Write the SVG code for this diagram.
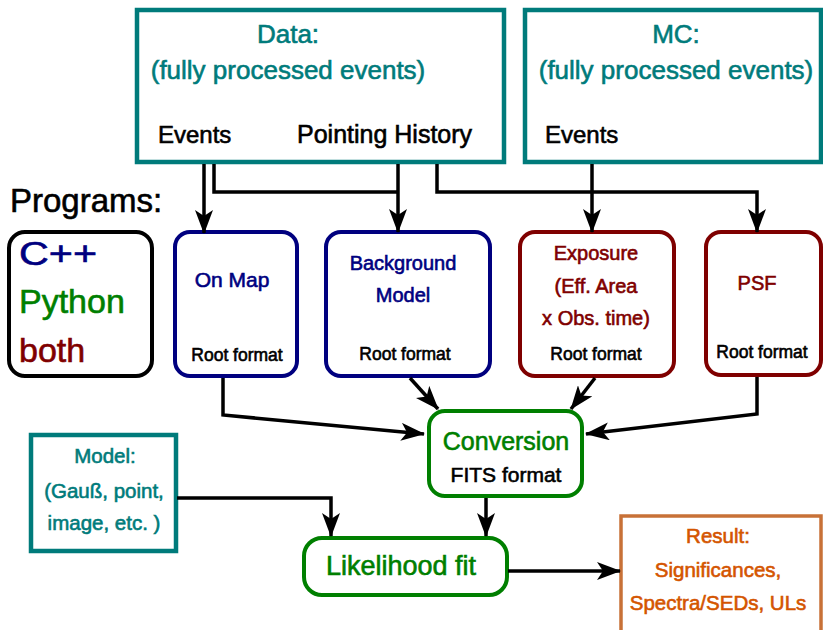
<svg xmlns="http://www.w3.org/2000/svg" width="823" height="630" viewBox="0 0 823 630">
<style>
text{font-family:"Liberation Sans","DejaVu Sans",sans-serif;stroke-width:0.6;}
.teal{fill:#007b7b;stroke:#007b7b;}
.navy{fill:#00007f;stroke:#00007f;}
.dred{fill:#7f0000;stroke:#7f0000;}
.grn{fill:#007f00;stroke:#007f00;}
.org{fill:#d45500;stroke:#d45500;}
.blk{fill:#000;stroke:#000;}
.mid{text-anchor:middle;}
.sq{fill:#fff;stroke:#007b7b;stroke-width:4.5;}
.rb{fill:#fff;stroke-width:4;}
.conn path{fill:none;stroke:#000;stroke-width:3.5;}
</style>
<defs>
<marker id="ah" viewBox="0 0 24 18" markerWidth="24" markerHeight="18" refX="23" refY="9" orient="auto" markerUnits="userSpaceOnUse">
<path d="M0,0 L24,9 L0,18 L6,9 Z" fill="#000"/>
</marker>
</defs>
<rect width="823" height="630" fill="#fff"/>

<g id="data">
<rect class="sq" x="137" y="10" width="367" height="152"/>
<text class="teal mid" x="288" y="43" font-size="26">Data:</text>
<text class="teal mid" x="288" y="79" font-size="26">(fully processed events)</text>
<text class="blk" x="158" y="143" font-size="24">Events</text>
<text class="blk" x="297" y="143" font-size="25">Pointing History</text>
</g>

<g id="mc">
<rect class="sq" x="525" y="10" width="296" height="152"/>
<text class="teal mid" x="676" y="43" font-size="26">MC:</text>
<text class="teal mid" x="676" y="79" font-size="26">(fully processed events)</text>
<text class="blk" x="545" y="143" font-size="24">Events</text>
</g>

<g id="programs">
<text class="blk" x="10" y="212" font-size="33">Programs:</text>
<rect class="rb" x="9" y="232" width="143" height="144" rx="16" stroke="#000" stroke-width="3.5"/>
<text class="navy" x="19" y="265" font-size="34" textLength="78" lengthAdjust="spacingAndGlyphs">C++</text>
<text class="grn" x="19" y="313" font-size="34">Python</text>
<text class="dred" x="19" y="362" font-size="34">both</text>
</g>

<g id="onmap">
<rect class="rb" x="175" y="232" width="122" height="144" rx="15" stroke="#00007f"/>
<text class="navy mid" x="232" y="287" font-size="21">On Map</text>
<text class="blk mid" x="237" y="361" font-size="17.5">Root format</text>
</g>

<g id="background">
<rect class="rb" x="326" y="232" width="164" height="144" rx="15" stroke="#00007f"/>
<text class="navy mid" x="403" y="270" font-size="20">Background</text>
<text class="navy mid" x="403" y="302" font-size="20">Model</text>
<text class="blk mid" x="405" y="360" font-size="17.5">Root format</text>
</g>

<g id="exposure">
<rect class="rb" x="520" y="232" width="154" height="144" rx="15" stroke="#7f0000"/>
<text class="dred mid" x="596" y="260" font-size="20">Exposure</text>
<text class="dred mid" x="596" y="293" font-size="20">(Eff. Area</text>
<text class="dred mid" x="596" y="325" font-size="20">x Obs. time)</text>
<text class="blk mid" x="596" y="360" font-size="17.5">Root format</text>
</g>

<g id="psf">
<rect class="rb" x="706" y="232" width="115" height="143" rx="15" stroke="#7f0000"/>
<text class="dred mid" x="757" y="290" font-size="20">PSF</text>
<text class="blk mid" x="762" y="358" font-size="17.5">Root format</text>
</g>

<g id="conversion">
<rect class="rb" x="429" y="411" width="153" height="85" rx="16" stroke="#007f00"/>
<text class="grn mid" x="506" y="450" font-size="25">Conversion</text>
<text class="blk mid" x="506" y="482" font-size="21">FITS format</text>
</g>

<g id="model">
<rect class="sq" x="31" y="435" width="145" height="116"/>
<text class="teal mid" x="105" y="463" font-size="20.5">Model:</text>
<text class="teal mid" x="104" y="498" font-size="20.5">(Gauß, point,</text>
<text class="teal mid" x="104" y="530" font-size="20.5">image, etc. )</text>
</g>

<g id="likelihood">
<rect class="rb" x="304" y="538" width="203" height="57" rx="18" stroke="#007f00"/>
<text class="grn mid" x="401" y="575" font-size="27">Likelihood fit</text>
</g>

<g id="result">
<rect x="621" y="516" width="200" height="120" fill="#fff" stroke="#c87137" stroke-width="3.5"/>
<text class="org mid" x="718" y="543" font-size="20.5">Result:</text>
<text class="org mid" x="718" y="577" font-size="20.5">Significances,</text>
<text class="org mid" x="718" y="610" font-size="20.5">Spectra/SEDs, ULs</text>
</g>

<g class="conn" id="connectors">
<path d="M204,164 V233" marker-end="url(#ah)"/>
<path d="M214,164 V192 H398"/>
<path d="M398,164 V232" marker-end="url(#ah)"/>
<path d="M437,164 V192 H757 V232" marker-end="url(#ah)"/>
<path d="M592,164 V232" marker-end="url(#ah)"/>
<path d="M223,378 V415 L424,434" marker-end="url(#ah)"/>
<path d="M410,378 L438,409" marker-end="url(#ah)"/>
<path d="M595,378 L571,409" marker-end="url(#ah)"/>
<path d="M757,377 V414 L586,434" marker-end="url(#ah)"/>
<path d="M486,498 V536" marker-end="url(#ah)"/>
<path d="M177,498 H331 V536" marker-end="url(#ah)"/>
<path d="M508,571 H620" marker-end="url(#ah)"/>
</g>
</svg>
